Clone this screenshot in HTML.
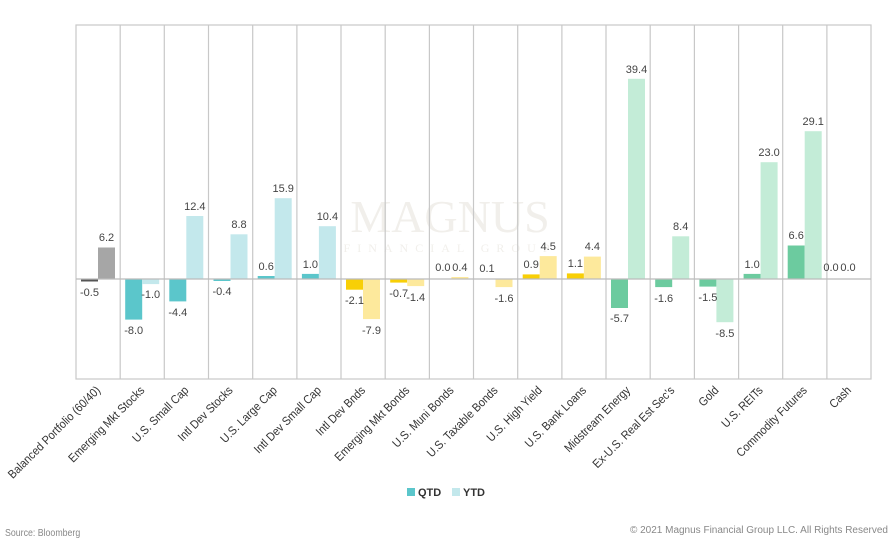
<!DOCTYPE html>
<html><head><meta charset="utf-8"><style>
body{margin:0;background:#fff;}
svg{display:block;font-family:"Liberation Sans",sans-serif;}
.v{font-size:11px;fill:#444;text-anchor:middle;}
.c{font-size:12px;fill:#333;text-anchor:end;}
</style></head><body>
<svg width="896" height="544" viewBox="0 0 896 544">
<text x="450" y="232" font-family="Liberation Serif,serif" font-size="46" fill="#f1efeb" text-anchor="middle">MAGNUS</text>
<text x="450" y="252" font-family="Liberation Serif,serif" font-size="12" letter-spacing="7" fill="#f1efeb" text-anchor="middle">FINANCIAL GROUP</text>
<g stroke="#c8c8c8" stroke-width="1.2" fill="none">
<rect x="76" y="25" width="795" height="354"/>
<path d="M120.2 25V379M164.3 25V379M208.5 25V379M252.7 25V379M296.9 25V379M341 25V379M385.2 25V379M429.4 25V379M473.5 25V379M517.7 25V379M561.9 25V379M606 25V379M650.2 25V379M694.4 25V379M738.6 25V379M782.7 25V379M826.9 25V379"/>
</g>
<g>
<rect x="81" y="279" width="17" height="2.5" fill="#555"/><rect x="98" y="247.5" width="17" height="31.5" fill="#a6a6a6"/>
<rect x="125.2" y="279" width="17" height="40.6" fill="#5bc6cb"/><rect x="142.2" y="279" width="17" height="5.1" fill="#c3e8ec"/>
<rect x="169.3" y="279" width="17" height="22.4" fill="#5bc6cb"/><rect x="186.3" y="216" width="17" height="63" fill="#c3e8ec"/>
<rect x="213.5" y="279" width="17" height="2" fill="#5bc6cb"/><rect x="230.5" y="234.3" width="17" height="44.7" fill="#c3e8ec"/>
<rect x="257.7" y="276" width="17" height="3" fill="#5bc6cb"/><rect x="274.7" y="198.2" width="17" height="80.8" fill="#c3e8ec"/>
<rect x="301.9" y="273.9" width="17" height="5.1" fill="#5bc6cb"/><rect x="318.9" y="226.2" width="17" height="52.8" fill="#c3e8ec"/>
<rect x="346" y="279" width="17" height="10.7" fill="#f8cf06"/><rect x="363" y="279" width="17" height="40.1" fill="#fde99c"/>
<rect x="390.2" y="279" width="17" height="3.6" fill="#f8cf06"/><rect x="407.2" y="279" width="17" height="7.1" fill="#fde99c"/>
<rect x="451.4" y="277" width="17" height="2" fill="#fde99c"/>
<rect x="478.5" y="278.5" width="17" height="0.5" fill="#f8cf06"/><rect x="495.5" y="279" width="17" height="8.1" fill="#fde99c"/>
<rect x="522.7" y="274.4" width="17" height="4.6" fill="#f8cf06"/><rect x="539.7" y="256.1" width="17" height="22.9" fill="#fde99c"/>
<rect x="566.9" y="273.4" width="17" height="5.6" fill="#f8cf06"/><rect x="583.9" y="256.6" width="17" height="22.4" fill="#fde99c"/>
<rect x="611" y="279" width="17" height="29" fill="#6ccb9f"/><rect x="628" y="78.8" width="17" height="200.2" fill="#c3ecd7"/>
<rect x="655.2" y="279" width="17" height="8.1" fill="#6ccb9f"/><rect x="672.2" y="236.3" width="17" height="42.7" fill="#c3ecd7"/>
<rect x="699.4" y="279" width="17" height="7.6" fill="#6ccb9f"/><rect x="716.4" y="279" width="17" height="43.2" fill="#c3ecd7"/>
<rect x="743.6" y="273.9" width="17" height="5.1" fill="#6ccb9f"/><rect x="760.6" y="162.2" width="17" height="116.8" fill="#c3ecd7"/>
<rect x="787.7" y="245.5" width="17" height="33.5" fill="#6ccb9f"/><rect x="804.7" y="131.2" width="17" height="147.8" fill="#c3ecd7"/>
</g>
<line x1="76" y1="279" x2="871" y2="279" stroke="#bbb" stroke-width="1.2"/>
<g class="v">
<text x="89.5" y="296">-0.5</text><text x="106.5" y="241">6.2</text>
<text x="133.7" y="334">-8.0</text><text x="150.7" y="298">-1.0</text>
<text x="177.8" y="316">-4.4</text><text x="194.8" y="210">12.4</text>
<text x="222" y="295">-0.4</text><text x="239" y="228">8.8</text>
<text x="266.2" y="270">0.6</text><text x="283.2" y="192">15.9</text>
<text x="310.4" y="268">1.0</text><text x="327.4" y="220">10.4</text>
<text x="354.5" y="304">-2.1</text><text x="371.5" y="334">-7.9</text>
<text x="398.7" y="297">-0.7</text><text x="415.7" y="301">-1.4</text>
<text x="442.9" y="271">0.0</text><text x="459.9" y="271">0.4</text>
<text x="487" y="272">0.1</text><text x="504" y="302">-1.6</text>
<text x="531.2" y="268">0.9</text><text x="548.2" y="250">4.5</text>
<text x="575.4" y="267">1.1</text><text x="592.4" y="250">4.4</text>
<text x="619.5" y="322">-5.7</text><text x="636.5" y="73">39.4</text>
<text x="663.7" y="302">-1.6</text><text x="680.7" y="230">8.4</text>
<text x="707.9" y="301">-1.5</text><text x="724.9" y="337">-8.5</text>
<text x="752.1" y="268">1.0</text><text x="769.1" y="156">23.0</text>
<text x="796.2" y="239">6.6</text><text x="813.2" y="125">29.1</text>
<text x="831" y="271">0.0</text><text x="848" y="271">0.0</text>
</g>
<g class="c">
<text transform="translate(101,391) rotate(-45) scale(0.9,1)">Balanced Portfolio (60/40)</text>
<text transform="translate(145.2,391) rotate(-45) scale(0.9,1)">Emerging Mkt Stocks</text>
<text transform="translate(189.3,391) rotate(-45) scale(0.9,1)">U.S. Small Cap</text>
<text transform="translate(233.5,391) rotate(-45) scale(0.9,1)">Intl Dev Stocks</text>
<text transform="translate(277.7,391) rotate(-45) scale(0.9,1)">U.S. Large Cap</text>
<text transform="translate(321.9,391) rotate(-45) scale(0.9,1)">Intl Dev Small Cap</text>
<text transform="translate(366,391) rotate(-45) scale(0.9,1)">Intl Dev Bnds</text>
<text transform="translate(410.2,391) rotate(-45) scale(0.9,1)">Emerging Mkt Bonds</text>
<text transform="translate(454.4,391) rotate(-45) scale(0.9,1)">U.S. Muni Bonds</text>
<text transform="translate(498.5,391) rotate(-45) scale(0.9,1)">U.S. Taxable Bonds</text>
<text transform="translate(542.7,391) rotate(-45) scale(0.9,1)">U.S. High Yield</text>
<text transform="translate(586.9,391) rotate(-45) scale(0.9,1)">U.S. Bank Loans</text>
<text transform="translate(631,391) rotate(-45) scale(0.9,1)">Midstream Energy</text>
<text transform="translate(675.2,391) rotate(-45) scale(0.9,1)">Ex-U.S. Real Est Sec's</text>
<text transform="translate(719.4,391) rotate(-45) scale(0.9,1)">Gold</text>
<text transform="translate(763.6,391) rotate(-45) scale(0.9,1)">U.S. REITs</text>
<text transform="translate(807.7,391) rotate(-45) scale(0.9,1)">Commodity Futures</text>
<text transform="translate(851.9,391) rotate(-45) scale(0.9,1)">Cash</text>
</g>
<rect x="407" y="488" width="8" height="8" fill="#5bc6cb"/>
<text x="418" y="496" font-size="11" font-weight="bold" fill="#333">QTD</text>
<rect x="452" y="488" width="8" height="8" fill="#c3e8ec"/>
<text x="463" y="496" font-size="11" font-weight="bold" fill="#333">YTD</text>
<text x="0" y="536" font-size="10" fill="#888" transform="translate(5,0) scale(0.88,1)">Source: Bloomberg</text>
<text x="888" y="533" font-size="10" fill="#888" text-anchor="end">© 2021 Magnus Financial Group LLC. All Rights Reserved</text>
</svg>
</body></html>
